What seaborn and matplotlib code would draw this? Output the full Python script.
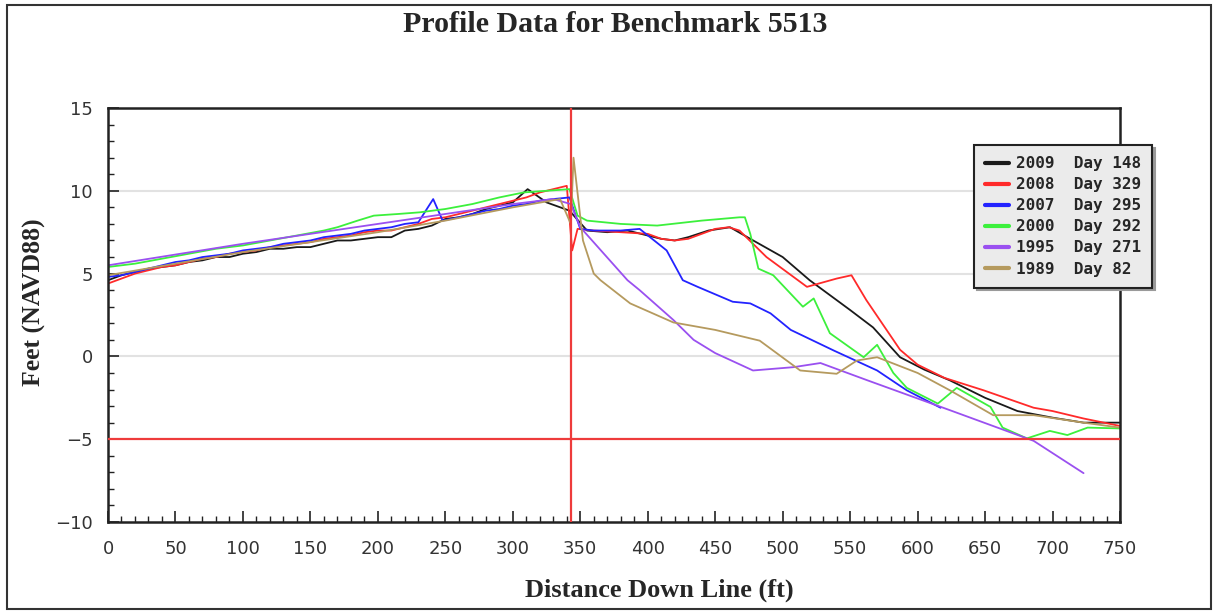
import numpy as np
import pandas as pd
import seaborn as sns
import matplotlib.pyplot as plt
from matplotlib.ticker import MultipleLocator
from matplotlib.patches import Rectangle

# profile surveys: distance down line (ft) and elevation (ft NAVD88)
x_2009 = [0, 10, 20, 30, 40, 50, 60, 70, 80, 90, 100, 110, 120, 130, 140, 150, 160, 170, 180, 190,
          200, 210, 220, 230, 240, 250, 260, 270, 280, 290, 300, 311, 325, 342, 355, 370, 385, 400,
          410, 420, 430, 445, 461, 476, 500, 520, 550, 567, 587, 605, 624, 650, 674, 700, 723, 750]
y_2009 = [4.6, 4.9, 5.1, 5.3, 5.4, 5.5, 5.7, 5.8, 6.0, 6.0, 6.2, 6.3, 6.5, 6.5, 6.6, 6.6, 6.8, 7.0, 7.0, 7.1,
          7.2, 7.2, 7.6, 7.7, 7.9, 8.3, 8.4, 8.6, 8.9, 9.1, 9.3, 10.1, 9.3, 8.8, 7.6, 7.5, 7.6, 7.3,
          7.1, 7.0, 7.2, 7.6, 7.8, 7.1, 6.0, 4.6, 2.8, 1.75, -0.05, -0.8, -1.45, -2.5, -3.3, -3.7, -4.0, -4.0]

x_2008 = [0, 10, 20, 30, 40, 50, 60, 70, 80, 90, 100, 110, 120, 130, 140, 150, 160, 170, 180, 190,
          200, 210, 220, 230, 240, 250, 260, 270, 280, 290, 300, 310, 320, 330, 340, 344, 348, 360,
          380, 400, 410, 420, 430, 440, 450, 460, 468, 488, 518, 540, 551, 562, 587, 600, 620, 649,
          686, 700, 723, 750]
y_2008 = [4.4, 4.7, 5.0, 5.2, 5.4, 5.5, 5.7, 5.9, 6.0, 6.2, 6.3, 6.4, 6.6, 6.7, 6.8, 6.9, 7.1, 7.2, 7.3, 7.5,
          7.6, 7.6, 7.8, 8.0, 8.3, 8.4, 8.6, 8.8, 9.0, 9.2, 9.4, 9.6, 9.9, 10.1, 10.3, 6.4, 7.7, 7.6,
          7.5, 7.4, 7.1, 7.0, 7.1, 7.4, 7.7, 7.8, 7.6, 6.0, 4.2, 4.7, 4.9, 3.4, 0.4, -0.5, -1.3, -2.05,
          -3.1, -3.3, -3.75, -4.2]

x_2007 = [0, 10, 20, 30, 40, 50, 60, 70, 80, 90, 100, 110, 120, 130, 140, 150, 160, 170, 180, 190,
          200, 210, 220, 230, 241, 248, 260, 270, 280, 290, 300, 310, 320, 330, 342, 350, 360, 380,
          394, 414, 426, 437, 463, 476, 491, 506, 538, 570, 592, 617]
y_2007 = [4.8, 4.9, 5.1, 5.3, 5.5, 5.7, 5.8, 6.0, 6.1, 6.2, 6.4, 6.5, 6.6, 6.8, 6.9, 7.0, 7.2, 7.3, 7.4, 7.6,
          7.7, 7.8, 8.0, 8.1, 9.5, 8.2, 8.4, 8.6, 8.8, 8.9, 9.1, 9.2, 9.4, 9.5, 9.6, 7.7, 7.6, 7.6,
          7.7, 6.4, 4.6, 4.2, 3.3, 3.2, 2.6, 1.6, 0.35, -0.85, -2.05, -3.1]

x_2000 = [0, 20, 40, 60, 80, 100, 120, 140, 160, 170, 185, 197, 215, 231, 250, 270, 290, 308, 325,
          342, 348, 355, 380, 407, 440, 468, 472, 476, 482, 493, 515, 523, 535, 560, 570, 582, 592,
          615, 629, 654, 663, 681, 698, 711, 726, 750]
y_2000 = [5.4, 5.6, 5.9, 6.2, 6.5, 6.7, 7.0, 7.3, 7.6, 7.8, 8.2, 8.5, 8.6, 8.7, 8.9, 9.2, 9.6, 9.9, 10.0,
          10.1, 8.5, 8.2, 8.0, 7.9, 8.2, 8.4, 8.4, 7.4, 5.3, 4.9, 3.0, 3.5, 1.4, -0.05, 0.7, -1.0, -1.9,
          -2.85, -1.9, -3.05, -4.3, -4.95, -4.5, -4.75, -4.3, -4.35]

x_1995 = [0, 100, 200, 300, 330, 343, 350, 385, 394, 419, 434, 450, 478, 508, 528, 563, 624, 686, 723]
y_1995 = [5.5, 6.8, 8.0, 9.2, 9.5, 9.2, 7.8, 4.6, 4.0, 2.2, 1.0, 0.2, -0.85, -0.65, -0.4, -1.45, -3.25,
          -5.1, -7.05]

x_1989 = [0, 50, 100, 150, 200, 250, 300, 335, 343, 345, 352, 360, 365, 387, 419, 450, 483, 513, 540,
          555, 570, 600, 624, 656, 686, 723, 750]
y_1989 = [4.9, 5.6, 6.3, 6.9, 7.5, 8.2, 9.0, 9.5, 8.0, 12.0, 7.0, 5.0, 4.6, 3.2, 2.05, 1.6, 0.95, -0.85,
          -1.05, -0.25, -0.05, -1.0, -2.05, -3.55, -3.55, -4.0, -4.3]

labels = ["2009  Day 148", "2008  Day 329", "2007  Day 295", "2000  Day 292", "1995  Day 271", "1989  Day 82"]
colors = ["#1a1a1a", "#ff2a2a", "#2323ff", "#3cf03c", "#9a50f0", "#b59a5e"]
benchmark_x = 343
datum_y = -5

series = [(x_2009, y_2009), (x_2008, y_2008), (x_2007, y_2007),
          (x_2000, y_2000), (x_1995, y_1995), (x_1989, y_1989)]
frames = []
for lab, (xs, ys) in zip(labels, series):
    frames.append(pd.DataFrame({"dist": xs, "elev": ys, "survey": lab}))
df = pd.concat(frames, ignore_index=True)

sns.set_style("white")
plt.rcParams['font.family'] = ['DejaVu Sans']

fig = plt.figure(figsize=(12.15, 6.11), dpi=100)
ax = fig.add_axes([108 / 1215, 1 - 522 / 611, 1012 / 1215, 414 / 611])

for yv in [0, 5, 10]:
    ax.axhline(yv, color="#e2e2e2", lw=1.5, zorder=0)

sns.lineplot(data=df, x="dist", y="elev", hue="survey", palette=dict(zip(labels, colors)),
             estimator=None, sort=False, lw=1.3, ax=ax, legend=False)

ax.axvline(benchmark_x, color="#ee3b3b", lw=1.6, zorder=5)
ax.axhline(datum_y, color="#ee3b3b", lw=1.6, zorder=5)

ax.set_xlim(0, 750)
ax.set_ylim(-10, 15)
ax.xaxis.set_major_locator(MultipleLocator(50))
ax.xaxis.set_minor_locator(MultipleLocator(10))
ax.yaxis.set_major_locator(MultipleLocator(5))
ax.yaxis.set_minor_locator(MultipleLocator(1))
ax.tick_params(which="major", direction="in", length=8, width=1.2, colors="#222222",
               labelsize=13, labelcolor="#333333", bottom=True, left=True)
ax.tick_params(which="minor", direction="in", length=4, width=1.0, colors="#222222",
               bottom=True, left=True)
ax.tick_params(axis="x", which="major", pad=13)
ax.tick_params(axis="y", which="major", pad=11)
for sp in ax.spines.values():
    sp.set_color("#222222")
    sp.set_linewidth(1.8)

ax.set_xlabel("")
ax.set_ylabel("")
fig.text(659 / 1215, 1 - 590 / 611, "Distance Down Line (ft)", ha="center", va="center",
         family="Liberation Serif", fontweight="bold", fontsize=19)
fig.text(34 / 1215, 1 - 302 / 611, "Feet (NAVD88)", ha="center", va="center", rotation=90,
         family="Liberation Serif", fontweight="bold", fontsize=18.5)
fig.text(615 / 1215, 1 - 25 / 611, "Profile Data for Benchmark 5513", ha="center", va="center",
         family="Liberation Serif", fontweight="bold", fontsize=21.5)

# legend box with drop shadow, like the original
handles = [plt.Line2D([], [], color=c, lw=3) for c in colors]
leg = ax.legend(handles, labels, loc="upper left", bbox_to_anchor=(974 / 1215, 1 - 145 / 611),
                bbox_transform=fig.transFigure, frameon=True, fancybox=False,
                shadow={"color": "#9a9a9a", "alpha": 1.0},
                prop={"family": "DejaVu Sans Mono", "weight": "bold", "size": 11.5},
                handlelength=1.5, handletextpad=0.4, labelspacing=0.38, borderpad=0.7,
                borderaxespad=0)
leg.get_frame().set_facecolor("#ebebeb")
leg.get_frame().set_edgecolor("#222222")
leg.get_frame().set_linewidth(1.5)
leg.set_zorder(10)

fig.patches.append(Rectangle((7 / 1215, 2 / 611), 1204 / 1215, 604 / 611, transform=fig.transFigure,
                             fill=False, edgecolor="#333333", lw=1.5))

plt.savefig("out.png", dpi=100)
